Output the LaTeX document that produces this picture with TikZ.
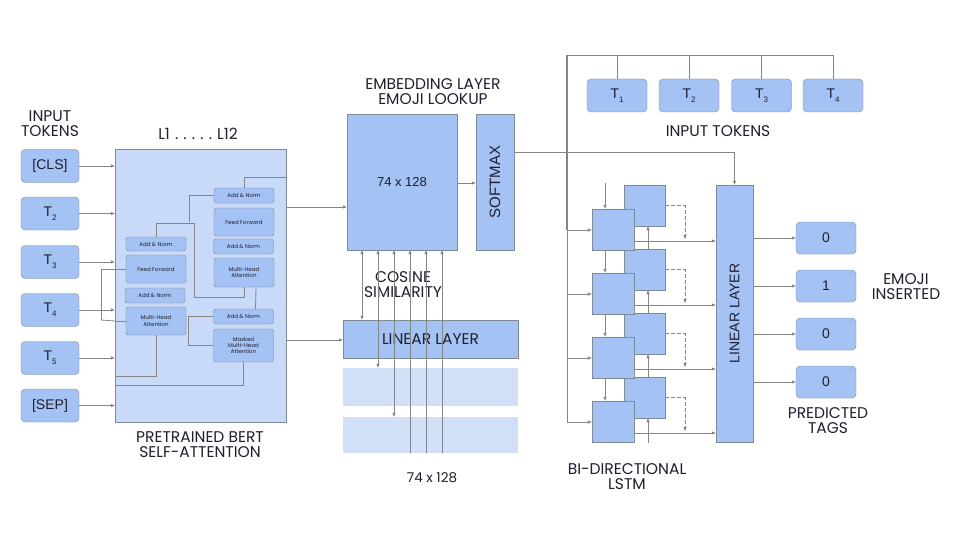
\documentclass[tikz,border=0pt]{standalone}
\usepackage{fontspec}
\setmainfont{Poppins}
\newfontfamily\tokfont{Liberation Sans}
\usetikzlibrary{arrows.meta}
\definecolor{midblue}{HTML}{A4C2F4}
\definecolor{lightblue}{HTML}{C9DAF8}
\definecolor{edgec}{HTML}{7F8A99}
\definecolor{wirec}{HTML}{858585}
\definecolor{ink}{HTML}{1F1F2E}
\newcommand{\tsub}[1]{T\raisebox{-0.55ex}{\fontsize{8}{8}\selectfont #1}}
\tikzset{
 tok/.style={draw=edgec, fill=midblue, rounded corners=4pt, minimum width=58pt, minimum height=33pt, inner sep=0pt, font=\tokfont\fontsize{14}{14}\selectfont, text=ink},
 sbox/.style={draw=edgec, fill=midblue, rounded corners=2.5pt, inner sep=0pt, minimum width=60pt, align=center, font=\fontsize{5.5}{6.2}\selectfont, text=ink},
 block/.style={draw=edgec, fill=midblue, inner sep=0pt, text=ink},
 pale/.style={fill=lightblue!85!white, inner sep=0pt, minimum width=175pt},
 lbl/.style={font=\fontsize{15.5}{15}\selectfont, text=ink, align=center},
 wire/.style={draw=wirec, line width=0.8pt},
 arr/.style={wire, -{Triangle[length=4pt,width=3pt]}},
 darr/.style={wire, dash pattern=on 4pt off 2pt, -{Triangle[length=4pt,width=3pt]}},
}
\begin{document}
\begin{tikzpicture}[x=1pt,y=-1pt]
\path[use as bounding box, fill=white] (0,0) rectangle (960,540);

% ---------- left input tokens ----------
\node[lbl] (lin) at (50,124) {INPUT\\TOKENS};
\node[tok] (cls) at (50,166) {[CLS]};
\node[tok] (lt2) at (50,213.5) {\tsub{2}};
\node[tok] (lt3) at (50,262) {\tsub{3}};
\node[tok] (lt4) at (50,310) {\tsub{4}};
\node[tok] (lt5) at (50,358) {\tsub{5}};
\node[tok] (sep) at (50,405.5) {[SEP]};

% ---------- BERT ----------
\node[lbl] (llayers) at (198,134) {L1\,\,.\,\,.\,\,.\,\,.\,\,.\,\,L12};
\node[draw=edgec, fill=lightblue, minimum width=171pt, minimum height=273pt, inner sep=0pt] (bert) at (200.5,285.5) {};
\node[lbl] (lbert) at (200,445) {PRETRAINED BERT\\SELF-ATTENTION};

\foreach \n in {cls,lt2,lt3,lt4,lt5,sep}
  \draw[arr] (\n.east) -- (\n.east -| bert.west);

% wires behind inner boxes
\draw[wire] (101,269) -- (101,320);
\node[sbox, minimum height=14pt] (eAN1) at (156,244) {Add \& Norm};
\node[sbox, minimum height=28pt] (eFF) at (156,269) {Feed Forward};
\node[sbox, minimum height=15pt] (eAN2) at (155,295.5) {Add \& Norm};
\node[sbox, minimum height=28pt] (eMHA) at (156,321) {Multi-Head\\Attention};
\node[sbox, minimum height=15pt] (dAN1) at (244,195.5) {Add \& Norm};
\node[sbox, minimum height=28pt] (dFF) at (244,222) {Feed Forward};
\node[sbox, minimum height=15pt] (dAN2) at (243.5,246.5) {Add \& Norm};
\node[sbox, minimum height=29pt] (dMHA) at (244,272.5) {Multi-Head\\Attention};
\node[sbox, minimum height=15pt] (dAN3) at (243.5,316.5) {Add \& Norm};
\node[sbox, minimum height=33pt] (dMMHA) at (243.5,345.5) {Masked\\Multi-Head\\Attention};

\draw[wire] (eFF.west) -- (bert.west |- eFF.west);
\draw[wire] (bert.west |- eMHA.west) -- (eMHA.west);
\draw[wire] (bert.west |- eFF.west) -- (101,269);
\draw[wire] (101,320) -- (bert.west |- eMHA.west);
\draw[wire] (eAN1.north) |- (194,223) -- (194,297) -| (dMHA.south);
\draw[wire] (dAN1.west) -| (189,222);
\draw[wire] ([xshift=12pt]dMHA.south) -- ([xshift=12pt]dAN3.north);
\draw[wire] (dAN3.west) -- (188,316.5) |- (dMMHA.west);
\draw[wire] (eMHA.south) |- (bert.west |- 0,376);
\draw[wire] (dMMHA.south) |- (bert.west |- 0,385);
\draw[wire] (dAN1.north) |- (bert.east |- 0,177);

% ---------- embedding ----------
\node[lbl] (lemb) at (433,92) {EMBEDDING LAYER\\EMOJI LOOKUP};
\node[block, minimum width=110pt, minimum height=136pt, font=\tokfont\fontsize{13}{13}\selectfont] (emb) at (402,182) {74 x 128};
\node[block, minimum width=38pt, minimum height=136pt] (sm) at (495,182) {};
\node[rotate=90, text=ink, font=\tokfont\fontsize{15}{15}\selectfont] (smt) at (sm.center) {SOFTMAX};
\draw[arr] (emb.east |- 0,183) -- (sm.west |- 0,183);

\node[block, minimum width=175pt, minimum height=38pt, font=\fontsize{15.5}{15.5}\selectfont] (lin1) at (430.5,339) {LINEAR LAYER};
\node[pale, minimum height=38pt] (r1) at (430.5,387) {};
\node[pale, minimum height=36pt] (r2) at (430.5,435) {};
\node[lbl] (lcos) at (403,285) {COSINE\\SIMILARITY};
\node[font=\fontsize{13.5}{13.5}\selectfont, text=ink] (ldim) at (432,478) {74 x 128};

\draw[arr] (bert.east |- 0,207) -- (emb.west |- 0,207);
\draw[arr] (bert.east |- 0,340) -- (lin1.west |- 0,340);

\draw[wire, {Triangle[length=4pt,width=3pt]}-{Triangle[length=4pt,width=3pt]}] (emb.south -| 362,0) -- (lin1.north -| 362,0);
\draw[wire, {Triangle[length=4pt,width=3pt]}-{Triangle[length=4pt,width=3pt]}] (emb.south -| 378,0) -- (r1.north -| 378,0);
\draw[wire, {Triangle[length=4pt,width=3pt]}-{Triangle[length=4pt,width=3pt]}] (emb.south -| 394,0) -- (r2.north -| 394,0);
\foreach \xx in {410,426,442}
  \draw[wire, {Triangle[length=4pt,width=3pt]}-] (emb.south -| \xx,0) -- (r2.south -| \xx,0);

% ---------- top input tokens ----------
\node[tok, minimum width=60pt] (t1) at (617,95.5) {\tsub{1}};
\node[tok, minimum width=60pt] (t2) at (689,95.5) {\tsub{2}};
\node[tok, minimum width=60pt] (t3) at (761.5,95.5) {\tsub{3}};
\node[tok, minimum width=60pt] (t4) at (833,95.5) {\tsub{4}};
\node[lbl] (ltop) at (718,131) {INPUT TOKENS};
\coordinate (tl) at (567,55);
\draw[wire] (t4.north) |- (tl);
\foreach \n in {t1,t2,t3} \draw[wire] (\n.north) -- (\n.north |- tl);
\draw[wire, line width=1.6pt] (tl) -- (567,230);
\draw[wire] (567,230) -- (567,422);

% ---------- LSTM ----------
\node[block, minimum width=41pt, minimum height=41pt] (b1) at (644.5,205.5) {};
\node[block, minimum width=41pt, minimum height=41pt] (b2) at (644.5,269.5) {};
\node[block, minimum width=41pt, minimum height=41pt] (b3) at (644.5,333.5) {};
\node[block, minimum width=41pt, minimum height=41pt] (b4) at (644.5,397.5) {};
\node[block, minimum width=42pt, minimum height=41pt] (f1) at (613,229.5) {};
\node[block, minimum width=42pt, minimum height=41pt] (f2) at (613,293.5) {};
\node[block, minimum width=42pt, minimum height=41pt] (f3) at (613,357.5) {};
\node[block, minimum width=42pt, minimum height=41pt] (f4) at (613,421.5) {};
\node[block, minimum width=37pt, minimum height=257pt] (lin2) at (734.5,313.5) {};
\node[rotate=90, text=ink, font=\tokfont\fontsize{14}{14}\selectfont] (lin2t) at (lin2.center) {LINEAR LAYER};
\node[lbl] (llstm) at (627,477) {BI-DIRECTIONAL\\LSTM};

\draw[arr] (sm.east |- 0,152) -| (lin2.north);

\foreach \n/\yy in {f1/230,f2/294,f3/358,f4/422}
  \draw[arr] (567,\yy) -- (\n.west |- 0,\yy);
\draw[arr] ([xshift=-8pt]f1.north |- 0,183) -- ([xshift=-8pt]f1.north);
\draw[arr] ([xshift=-8pt]f1.south) -- ([xshift=-8pt]f2.north);
\draw[arr] ([xshift=-8pt]f2.south) -- ([xshift=-8pt]f3.north);
\draw[arr] ([xshift=-8pt]f3.south) -- ([xshift=-8pt]f4.north);
\draw[arr] ([xshift=3.5pt]b2.north) -- ([xshift=3.5pt]b1.south);
\draw[arr] ([xshift=3.5pt]b3.north) -- ([xshift=3.5pt]b2.south);
\draw[arr] ([xshift=3.5pt]b4.north) -- ([xshift=3.5pt]b3.south);
\draw[arr] ([xshift=3.5pt]b4.south |- 0,443) -- ([xshift=3.5pt]b4.south);
\foreach \n/\yy in {f1/241,f2/305,f3/369,f4/433}
  \draw[arr] (\n.east |- 0,\yy) -- (lin2.west |- 0,\yy);
\foreach \n/\yy in {b1/239,b2/303,b3/367,b4/431}
  \draw[darr] (\n.east) -- (685,0 |- \n.east) -- (685,\yy);

% ---------- outputs ----------
\node[tok, minimum width=60pt, minimum height=32pt] (o1) at (826,238) {0};
\node[tok, minimum width=60pt, minimum height=32pt] (o2) at (826,286) {1};
\node[tok, minimum width=60pt, minimum height=32pt] (o3) at (826,334) {0};
\node[tok, minimum width=60pt, minimum height=32pt] (o4) at (826,382) {0};
\foreach \n in {o1,o2,o3,o4}
  \draw[arr] (lin2.east |- \n.west) -- (\n.west);
\node[lbl] (lemo) at (906,287) {EMOJI\\INSERTED};
\node[lbl] (lpred) at (828,421) {PREDICTED\\TAGS};
\end{tikzpicture}
\end{document}
